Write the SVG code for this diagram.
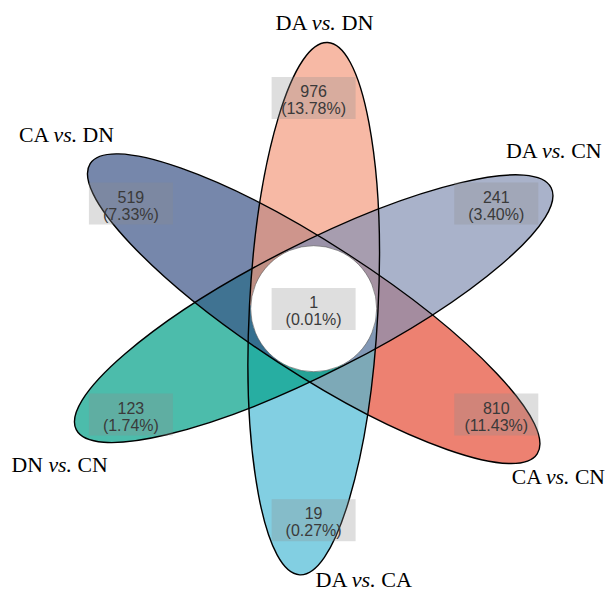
<svg xmlns="http://www.w3.org/2000/svg" width="606" height="590" viewBox="0 0 606 590">
  <style>
    .petal { fill-opacity: 0.7; stroke: none; }
    .outline { fill: none; stroke: #000; stroke-width: 1.4; }
    .box { fill: #8c8c8c; fill-opacity: 0.29; }
    .num { font-family: "Liberation Sans", Arial, sans-serif; font-size: 16px; fill: #3a3a3a; text-anchor: middle; }
    .lab { font-family: "Liberation Serif", "Times New Roman", serif; font-size: 20px; fill: #000; }
    .it { font-style: italic; }
  </style>
  <defs>
    <path id="half" d="M0,64.3 A266.5,64.3 0 0 0 266.5,0 A266.5,64.3 0 0 0 0,-64.3 Z"/>
    <ellipse id="ell" cx="0" cy="0" rx="266.5" ry="64.3"/>
  </defs>
  <rect width="606" height="590" fill="#fff"/>
  <g id="petals">
    <g id="node-CA-vs-CN"><use href="#half" class="petal" fill="#E64B35" transform="translate(313.7 308.7) rotate(33)"/></g>
    <g id="node-DA-vs-CA"><use href="#half" class="petal" fill="#4DBBD5" transform="translate(313.7 308.7) rotate(93)"/></g>
    <g id="node-DN-vs-CN"><use href="#half" class="petal" fill="#00A087" transform="translate(313.7 308.7) rotate(153)"/></g>
    <g id="node-CA-vs-DN"><use href="#half" class="petal" fill="#3C5488" transform="translate(313.7 308.7) rotate(213)"/></g>
    <g id="node-DA-vs-DN"><use href="#half" class="petal" fill="#F39B7F" transform="translate(313.7 308.7) rotate(273)"/></g>
    <g id="node-DA-vs-CN"><use href="#half" class="petal" fill="#8491B4" transform="translate(313.7 308.7) rotate(333)"/></g>
  </g>
  <g id="connectors">
    <use href="#ell" class="outline" transform="translate(313.7 308.7) rotate(-87)"/>
    <use href="#ell" class="outline" transform="translate(313.7 308.7) rotate(-27)"/>
    <use href="#ell" class="outline" transform="translate(313.7 308.7) rotate(33)"/>
  </g>
  <g id="node-core">
    <circle cx="313.7" cy="308.7" r="63" fill="#fff" stroke="#555" stroke-width="0.6"/>
    <rect class="box" x="271.6" y="288" width="84" height="42"/>
    <text class="num" x="313.6" y="308.2">1</text>
    <text class="num" x="313.6" y="325">(0.01%)</text>
  </g>
  <g id="label-DA-vs-DN">
    <rect class="box" x="271.6" y="77" width="84" height="42"/>
    <text class="num" x="313.6" y="97.2">976</text>
    <text class="num" x="313.6" y="114">(13.78%)</text>
    <text class="lab" x="275.5" y="30" textLength="98" lengthAdjust="spacingAndGlyphs">DA <tspan class="it">vs.</tspan> DN</text>
  </g>
  <g id="label-DA-vs-CN">
    <rect class="box" x="454.3" y="182.5" width="84" height="42"/>
    <text class="num" x="496.3" y="202.7">241</text>
    <text class="num" x="496.3" y="219.5">(3.40%)</text>
    <text class="lab" x="506" y="158.3" textLength="95.7" lengthAdjust="spacingAndGlyphs">DA <tspan class="it">vs.</tspan> CN</text>
  </g>
  <g id="label-CA-vs-CN">
    <rect class="box" x="454.3" y="393.5" width="84" height="42"/>
    <text class="num" x="496.3" y="413.7">810</text>
    <text class="num" x="496.3" y="430.5">(11.43%)</text>
    <text class="lab" x="511.7" y="484" textLength="93.3" lengthAdjust="spacingAndGlyphs">CA <tspan class="it">vs.</tspan> CN</text>
  </g>
  <g id="label-DA-vs-CA">
    <rect class="box" x="271.6" y="499.2" width="84" height="42"/>
    <text class="num" x="313.6" y="519.4">19</text>
    <text class="num" x="313.6" y="536.2">(0.27%)</text>
    <text class="lab" x="315.4" y="586.5" textLength="96.6" lengthAdjust="spacingAndGlyphs">DA <tspan class="it">vs.</tspan> CA</text>
  </g>
  <g id="label-DN-vs-CN">
    <rect class="box" x="88.9" y="393.5" width="84" height="42"/>
    <text class="num" x="130.9" y="413.7">123</text>
    <text class="num" x="130.9" y="430.5">(1.74%)</text>
    <text class="lab" x="11.6" y="472" textLength="96" lengthAdjust="spacingAndGlyphs">DN <tspan class="it">vs.</tspan> CN</text>
  </g>
  <g id="label-CA-vs-DN">
    <rect class="box" x="88.9" y="182.5" width="84" height="42"/>
    <text class="num" x="130.9" y="202.7">519</text>
    <text class="num" x="130.9" y="219.5">(7.33%)</text>
    <text class="lab" x="19" y="142.3" textLength="95" lengthAdjust="spacingAndGlyphs">CA <tspan class="it">vs.</tspan> DN</text>
  </g>
</svg>
